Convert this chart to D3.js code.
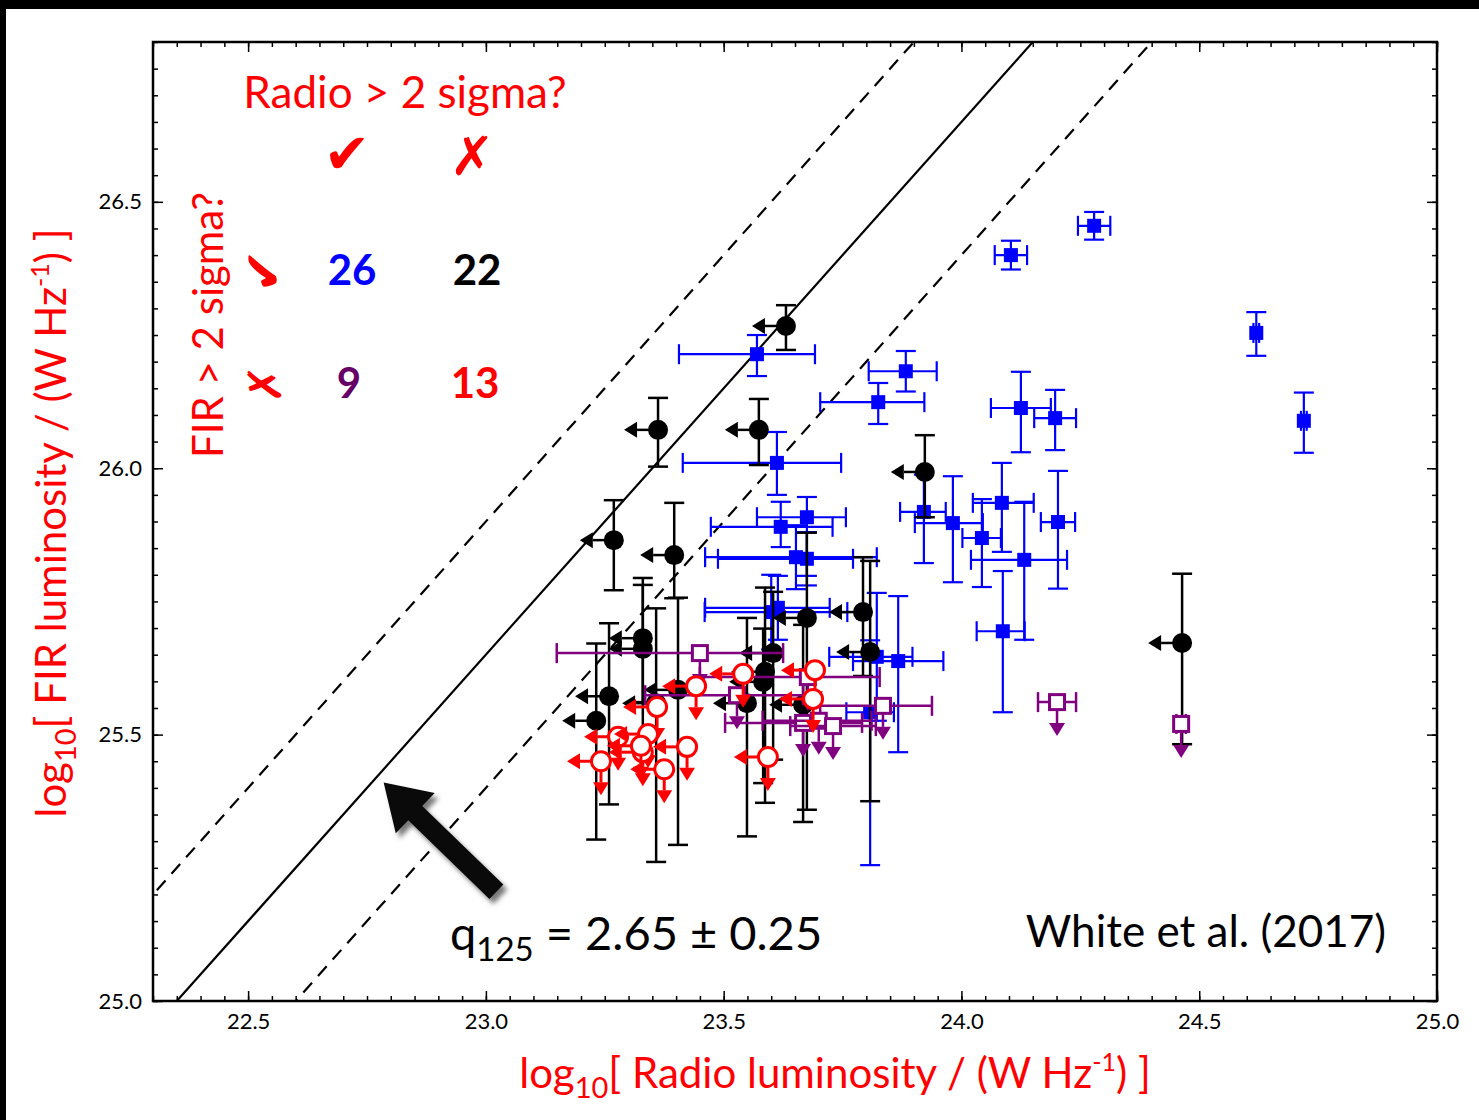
<!DOCTYPE html>
<html>
<head>
<meta charset="utf-8">
<script src="https://cdn.jsdelivr.net/npm/d3@7"></script>
<style>
  body { margin: 0; background: #fff; }
  svg { display: block; }
  text { font-family: Lato, "Open Sans", sans-serif; }
</style>
</head>
<body>
<svg id="chart" width="1479" height="1120"></svg>
<script>
// radio and FIR both detected: [logL_radio, logL_FIR, xlo, xhi, ylo, yhi]
const bothDet = [
  [24.279, 26.455, .034, .034, .026, .026],
  [24.104, 26.400, .034, .034, .027, .027],
  [24.620, 26.254, .006, .006, .043, .039],
  [24.720, 26.089, .006, .006, .060, .053],
  [23.570, 26.214, .164, .122, .041, .036],
  [23.883, 26.182, .078, .065, .038, .038],
  [23.825, 26.124, .122, .097, .041, .036],
  [24.125, 26.113, .063, .063, .083, .068],
  [24.197, 26.094, .044, .044, .060, .053],
  [23.612, 26.010, .198, .135, .060, .058],
  [23.921, 25.918, .050, .046, .096, .070],
  [23.982, 25.897, .080, .063, .111, .088],
  [24.043, 25.869, .041, .040, .092, .073],
  [24.085, 25.935, .061, .067, .092, .075],
  [24.203, 25.899, .036, .036, .125, .096],
  [24.132, 25.828, .112, .090, .150, .109],
  [24.087, 25.694, .055, .046, .152, .113],
  [23.867, 25.638, .095, .095, .171, .122],
  [23.822, 25.646, .100, .075, .120, .120],
  [23.620, 25.890, .147, .109, .038, .047],
  [23.675, 25.908, .105, .082, .110, .038],
  [23.652, 25.833, .191, .170, .060, .060],
  [23.675, 25.830, .187, .097, .050, .050],
  [23.614, 25.738, .153, .109, .060, .060],
  [23.600, 25.730, .140, .160, .070, .070],
  [23.808, 25.542, .050, .050, .287, .135]
];

// FIR detected, radio upper limit: [logL_radio, logL_FIR, ylo, yhi]
const firOnly = [
  [23.631, 26.267, .045, .039],
  [23.362, 26.072, .069, .060],
  [23.574, 26.072, .066, .058],
  [23.923, 25.993, .085, .069],
  [23.269, 25.865, .094, .075],
  [23.396, 25.837, .081, .098],
  [24.464, 25.672, .190, .130],
  [23.793, 25.730, .120, .103],
  [23.675, 25.719, .360, .160],
  [23.330, 25.681, .120, .113],
  [23.330, 25.661, .200, .120],
  [23.808, 25.655, .280, .171],
  [23.604, 25.653, .200, .115],
  [23.587, 25.618, .246, .158],
  [23.583, 25.599, .190, .100],
  [23.259, 25.572, .203, .137],
  [23.232, 25.526, .223, .145],
  [23.404, 25.584, .291, .173],
  [23.549, 25.559, .250, .160],
  [23.358, 25.559, .298, .178],
  [23.667, 25.556, .220, .150]
];

// radio detected, FIR upper limit: [logL_radio, logL_FIR, xlo, xhi]
const radioOnly = [
  [23.450, 25.653, .301, .175],
  [23.528, 25.574, .193, .139],
  [23.677, 25.608, .227, .151],
  [24.201, 25.561, .040, .040],
  [24.462, 25.520, .010, .010],
  [23.835, 25.554, .132, .103],
  [23.667, 25.522, .164, .124],
  [23.700, 25.526, .118, .111],
  [23.730, 25.516, .090, .090]
];

// neither detected (both upper limits): [logL_radio, logL_FIR]
const noneDet = [
  [23.541, 25.614], [23.692, 25.621], [23.688, 25.567], [23.442, 25.591],
  [23.360, 25.552], [23.278, 25.496], [23.341, 25.501], [23.330, 25.467],
  [23.423, 25.477], [23.242, 25.450], [23.375, 25.435], [23.593, 25.458],
  [23.326, 25.479]
];

const xTicks = [22.5, 23.0, 23.5, 24.0, 24.5, 25.0];
const yTicks = [25.0, 25.5, 26.0, 26.5];
const qValue = 2.65;
const qScatter = 0.25;

const svg = d3.select('#chart');
const W = 1479, H = 1120;
const plotL = 153, plotR = 1437, plotT = 42, plotB = 1001;

const x = d3.scaleLinear().domain([22.3, 25.0]).range([plotL, plotR]);
const y = d3.scaleLinear().domain([25.0, 26.8]).range([plotB, plotT]);

// black strips along top and left of the slide
svg.append('rect').attr('x', 0).attr('y', 0).attr('width', W).attr('height', 9).attr('fill', '#000');
svg.append('rect').attr('x', 0).attr('y', 0).attr('width', 6).attr('height', H).attr('fill', '#000');

const defs = svg.append('defs');
defs.append('clipPath').attr('id', 'plotClip')
  .append('rect').attr('x', plotL).attr('y', plotT).attr('width', plotR - plotL).attr('height', plotB - plotT);

// minor ticks every 0.05, major every 0.5
const xMinor = d3.range(22.3, 25.001, 0.05).map(v => +v.toFixed(2));
const yMinor = d3.range(25.0, 26.801, 0.05).map(v => +v.toFixed(2));

function styleAxis(g) {
  g.select('.domain').remove();
  g.selectAll('line').attr('stroke', '#000').attr('stroke-width', 1.5);
  g.selectAll('text').attr('font-size', 22).attr('fill', '#000')
    .style('font-family', 'Lato, "Open Sans", sans-serif');
}

svg.append('g').attr('transform', `translate(0,${plotB})`)
  .call(d3.axisBottom(x).tickValues(xMinor).tickSize(-5).tickFormat('')).call(styleAxis);
svg.append('g').attr('transform', `translate(0,${plotB})`)
  .call(d3.axisBottom(x).tickValues(xTicks).tickSize(-10).tickPadding(12).tickFormat(d3.format('.1f'))).call(styleAxis);
svg.append('g').attr('transform', `translate(0,${plotT})`)
  .call(d3.axisTop(x).tickValues(xMinor).tickSize(-5).tickFormat('')).call(styleAxis);
svg.append('g').attr('transform', `translate(0,${plotT})`)
  .call(d3.axisTop(x).tickValues(xTicks).tickSize(-10).tickFormat('')).call(styleAxis);

svg.append('g').attr('transform', `translate(${plotL},0)`)
  .call(d3.axisLeft(y).tickValues(yMinor).tickSize(-5).tickFormat('')).call(styleAxis);
svg.append('g').attr('transform', `translate(${plotL},0)`)
  .call(d3.axisLeft(y).tickValues(yTicks).tickSize(-10).tickPadding(11).tickFormat(d3.format('.1f'))).call(styleAxis);
svg.append('g').attr('transform', `translate(${plotR},0)`)
  .call(d3.axisRight(y).tickValues(yMinor).tickSize(-5).tickFormat('')).call(styleAxis);
svg.append('g').attr('transform', `translate(${plotR},0)`)
  .call(d3.axisRight(y).tickValues(yTicks).tickSize(-10).tickFormat('')).call(styleAxis);

// q relation lines
const lineGen = d3.line().x(d => x(d[0])).y(d => y(d[1]));
const plot = svg.append('g').attr('clip-path', 'url(#plotClip)');
[[qValue, null], [qValue + qScatter, '13,9'], [qValue - qScatter, '13,9']].forEach(([q, dash]) => {
  plot.append('path')
    .datum([[22.0, 22.0 + q], [25.0, 25.0 + q]])
    .attr('d', lineGen)
    .attr('fill', 'none')
    .attr('stroke', '#000')
    .attr('stroke-width', 2.2)
    .attr('stroke-dasharray', dash);
});

const CAP = 10;

function errX(g, cx0, cx1, cy, color, w) {
  g.append('line').attr('x1', cx0).attr('x2', cx1).attr('y1', cy).attr('y2', cy)
    .attr('stroke', color).attr('stroke-width', w);
  [cx0, cx1].forEach(cx => g.append('line').attr('x1', cx).attr('x2', cx)
    .attr('y1', cy - CAP).attr('y2', cy + CAP).attr('stroke', color).attr('stroke-width', w));
}
function errY(g, cx, cy0, cy1, color, w) {
  g.append('line').attr('x1', cx).attr('x2', cx).attr('y1', cy0).attr('y2', cy1)
    .attr('stroke', color).attr('stroke-width', w);
  [cy0, cy1].forEach(cy => g.append('line').attr('x1', cx - CAP).attr('x2', cx + CAP)
    .attr('y1', cy).attr('y2', cy).attr('stroke', color).attr('stroke-width', w));
}
// arrow from (cx,cy) in direction 'left' or 'down'
function limArrow(g, cx, cy, dir, color, w) {
  const L = 34, hl = 13, hw = 8;
  if (dir === 'left') {
    g.append('line').attr('x1', cx).attr('x2', cx - L + hl).attr('y1', cy).attr('y2', cy)
      .attr('stroke', color).attr('stroke-width', w);
    g.append('path').attr('d', `M${cx - L},${cy}L${cx - L + hl},${cy - hw}L${cx - L + hl},${cy + hw}Z`)
      .attr('fill', color);
  } else {
    g.append('line').attr('x1', cx).attr('x2', cx).attr('y1', cy).attr('y2', cy + L - hl)
      .attr('stroke', color).attr('stroke-width', w);
    g.append('path').attr('d', `M${cx},${cy + L}L${cx - hw},${cy + L - hl}L${cx + hw},${cy + L - hl}Z`)
      .attr('fill', color);
  }
}

// blue: both detected
const gBlue = svg.append('g');
bothDet.forEach(d => {
  const g = gBlue.append('g');
  errX(g, x(d[0] - d[2]), x(d[0] + d[3]), y(d[1]), '#0000ff', 2.2);
  errY(g, x(d[0]), y(d[1] - d[4]), y(d[1] + d[5]), '#0000ff', 2.2);
  g.append('rect').attr('x', x(d[0]) - 7).attr('y', y(d[1]) - 7).attr('width', 14).attr('height', 14)
    .attr('fill', '#0000ff');
});

// black: FIR detected, radio limit
const gBlack = svg.append('g');
firOnly.forEach(d => {
  const g = gBlack.append('g');
  errY(g, x(d[0]), y(d[1] - d[2]), y(d[1] + d[3]), '#000', 2.5);
  limArrow(g, x(d[0]), y(d[1]), 'left', '#000', 2.5);
  g.append('circle').attr('cx', x(d[0])).attr('cy', y(d[1])).attr('r', 10).attr('fill', '#000');
});

// purple: radio detected, FIR limit
const gPurple = svg.append('g');
radioOnly.forEach(d => {
  const g = gPurple.append('g');
  errX(g, x(d[0] - d[2]), x(d[0] + d[3]), y(d[1]), '#800080', 2.5);
  limArrow(g, x(d[0]), y(d[1]), 'down', '#800080', 2.5);
  g.append('rect').attr('x', x(d[0]) - 7.5).attr('y', y(d[1]) - 7.5).attr('width', 15).attr('height', 15)
    .attr('fill', '#fff').attr('stroke', '#800080').attr('stroke-width', 3);
});

// red: both limits
const gRed = svg.append('g');
noneDet.forEach(d => {
  const g = gRed.append('g');
  limArrow(g, x(d[0]), y(d[1]), 'left', '#ff0000', 3);
  limArrow(g, x(d[0]), y(d[1]), 'down', '#ff0000', 3);
  g.append('circle').attr('cx', x(d[0])).attr('cy', y(d[1])).attr('r', 9.5)
    .attr('fill', '#fff').attr('stroke', '#ff0000').attr('stroke-width', 3);
});

// frame
svg.append('rect').attr('x', plotL).attr('y', plotT).attr('width', plotR - plotL).attr('height', plotB - plotT)
  .attr('fill', 'none').attr('stroke', '#000').attr('stroke-width', 2.5);

// big annotation arrow pointing at the q line
const tip = [x(22.785), y(25.41)], tail = [x(23.022), y(25.205)];
const len = Math.hypot(tip[0] - tail[0], tip[1] - tail[1]);
const u = [(tip[0] - tail[0]) / len, (tip[1] - tail[1]) / len];
const n = [-u[1], u[0]];
const hb = [tip[0] - u[0] * 44, tip[1] - u[1] * 44];
const P = (b, k) => [b[0] + n[0] * k, b[1] + n[1] * k];
const arrowPts = [P(tail, 10), P(hb, 10), P(hb, 28), tip, P(hb, -28), P(hb, -10), P(tail, -10)];
const blur = defs.append('filter').attr('id', 'shadow');
blur.append('feGaussianBlur').attr('stdDeviation', 2.5);
svg.append('polygon').attr('points', arrowPts.map(p => [p[0] + 4, p[1] + 5].join(',')).join(' '))
  .attr('fill', '#777').attr('filter', 'url(#shadow)');
svg.append('polygon').attr('points', arrowPts.map(p => p.join(',')).join(' ')).attr('fill', '#0a0a0a');

// axis titles
const xt = svg.append('text').attr('x', 835).attr('y', 1088).attr('text-anchor', 'middle')
  .attr('font-size', 42).attr('fill', '#ff0000');
xt.append('tspan').text('log');
xt.append('tspan').attr('font-size', 29).attr('dy', 10).text('10');
xt.append('tspan').attr('dy', -10).text('[ Radio luminosity / (W Hz');
xt.append('tspan').attr('font-size', 25).attr('dy', -17).text('-1');
xt.append('tspan').attr('dy', 17).text(') ]');

const yt = svg.append('text').attr('transform', 'translate(66,523) rotate(-90)').attr('text-anchor', 'middle')
  .attr('font-size', 42).attr('fill', '#ff0000');
yt.append('tspan').text('log');
yt.append('tspan').attr('font-size', 29).attr('dy', 10).text('10');
yt.append('tspan').attr('dy', -10).text('[ FIR luminosity / (W Hz');
yt.append('tspan').attr('font-size', 25).attr('dy', -17).text('-1');
yt.append('tspan').attr('dy', 17).text(') ]');

// q annotation and citation
const qt = svg.append('text').attr('x', 450).attr('y', 950).attr('font-size', 47).attr('fill', '#000');
qt.append('tspan').text('q');
qt.append('tspan').attr('font-size', 33).attr('dy', 11).text('125');
qt.append('tspan').attr('dy', -11).text(` = ${qValue.toFixed(2)} ± ${qScatter.toFixed(2)}`);

svg.append('text').attr('x', 1386).attr('y', 947).attr('text-anchor', 'end')
  .attr('font-size', 44).attr('fill', '#000').text('White et al. (2017)');

// detection table
svg.append('text').attr('x', 405).attr('y', 108).attr('text-anchor', 'middle')
  .attr('font-size', 44).attr('fill', '#ff0000').text('Radio > 2 sigma?');
svg.append('text').attr('transform', 'translate(223,325) rotate(-90)').attr('text-anchor', 'middle')
  .attr('font-size', 42).attr('fill', '#ff0000').text('FIR > 2 sigma?');

const sym = (tx, ty, rot, s, size) => svg.append('text')
  .attr('transform', `translate(${tx},${ty}) rotate(${rot})`)
  .attr('text-anchor', 'middle').attr('dominant-baseline', 'central')
  .style('font-family', '"DejaVu Sans", sans-serif').attr('font-weight', 'bold')
  .attr('font-size', size).attr('fill', '#ff0000').text(s);
sym(347, 153, 0, '\u2714', 56);
sym(472, 156, 0, '\u2717', 54);
sym(263, 271, -90, '\u2714', 52);
sym(265, 384, -90, '\u2717', 46);

const counts = [
  ['26', 352, 285, '#0000ff'],
  ['22', 477, 285, '#000000'],
  ['9', 349, 398, '#660066'],
  ['13', 475, 398, '#ff0000']
];
counts.forEach(([t, cx, cy, c]) => svg.append('text').attr('x', cx).attr('y', cy)
  .attr('text-anchor', 'middle').attr('font-size', 42).attr('font-weight', 'bold')
  .attr('fill', c).text(t));
</script>
</body>
</html>
